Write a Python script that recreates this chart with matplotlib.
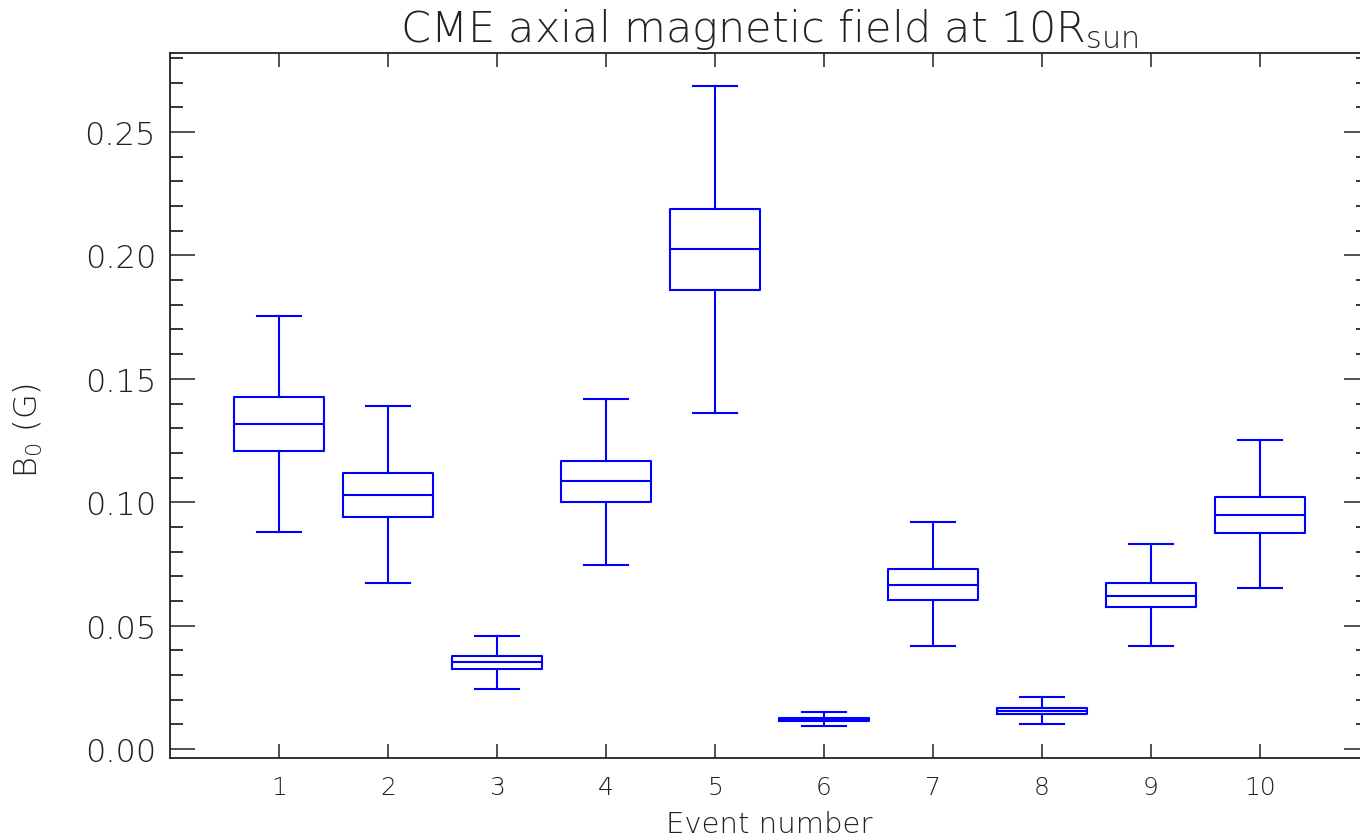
import matplotlib
matplotlib.use('Agg')
import matplotlib.pyplot as plt
from matplotlib.ticker import MultipleLocator, FormatStrFormatter

# Per-event distribution of the axial field B0 at 10 Rsun (Gauss)
events   = [1, 2, 3, 4, 5, 6, 7, 8, 9, 10]
whis_lo  = [0.0878, 0.0671, 0.0244, 0.0747, 0.1362, 0.0093, 0.0416, 0.0101, 0.0417, 0.0652]
q1       = [0.1207, 0.0940, 0.0325, 0.0999, 0.1861, 0.0113, 0.0605, 0.0142, 0.0575, 0.0875]
medians  = [0.1319, 0.1029, 0.0351, 0.1085, 0.2027, 0.0122, 0.0664, 0.0154, 0.0621, 0.0950]
q3       = [0.1425, 0.1119, 0.0377, 0.1168, 0.2190, 0.0127, 0.0729, 0.0166, 0.0674, 0.1021]
whis_hi  = [0.1753, 0.1388, 0.0456, 0.1418, 0.2687, 0.0149, 0.0918, 0.0209, 0.0829, 0.1251]

stats = []
for i in range(len(events)):
    stats.append({
        'label': str(events[i]),
        'whislo': whis_lo[i],
        'q1': q1[i],
        'med': medians[i],
        'q3': q3[i],
        'whishi': whis_hi[i],
        'fliers': [],
    })

plt.rcParams['font.family'] = ['DejaVu Sans']
plt.rcParams['mathtext.fontset'] = 'custom'
plt.rcParams['mathtext.rm'] = 'DejaVu Sans:light'
plt.rcParams['mathtext.it'] = 'DejaVu Sans:light'
plt.rcParams['mathtext.default'] = 'rm'
txt_color = '#222222'

fig = plt.figure(figsize=(13.6, 8.37), dpi=100)
ax = fig.add_axes([0.125, 0.0928, 0.8816, 0.8423])

blue = '#0000ff'
lw = 1.5
ax.bxp(stats, positions=events, widths=0.83, showfliers=False,
       boxprops=dict(color=blue, linewidth=lw),
       medianprops=dict(color=blue, linewidth=lw),
       whiskerprops=dict(color=blue, linewidth=lw),
       capprops=dict(color=blue, linewidth=lw),
       capwidths=0.41)

ax.set_xlim(0, 11)
ax.set_ylim(-0.00377, 0.2819)
ax.set_xticks(events)
ax.set_xticklabels([str(e) for e in events])
ax.yaxis.set_major_locator(MultipleLocator(0.05))
ax.yaxis.set_minor_locator(MultipleLocator(0.01))
ax.yaxis.set_major_formatter(FormatStrFormatter('%.2f'))

for s in ax.spines.values():
    s.set_color('#222222')
    s.set_linewidth(1.3)

ax.tick_params(axis='y', which='major', direction='in', length=18, width=1.1,
               left=True, right=True, labelsize=23, pad=10, colors=txt_color)
ax.tick_params(axis='y', which='minor', direction='in', length=9.5, width=1.1,
               left=True, right=True)
ax.tick_params(axis='x', which='major', direction='in', length=10, width=1.1,
               bottom=True, top=True, labelsize=18, pad=12, colors=txt_color)

for lab in ax.get_xticklabels() + ax.get_yticklabels():
    lab.set_fontweight('light')

ax.set_title(r'CME axial magnetic field at 10R$_{sun}$', fontsize=31,
             color=txt_color, pad=9, fontweight='light')
ax.set_xlabel('Event number', fontsize=21, color=txt_color, labelpad=8,
              fontweight='light')
ax.set_ylabel(r'B$_0$ (G)', fontsize=23, color=txt_color, fontweight='light')
ax.yaxis.set_label_coords(-0.104, 0.467)

fig.savefig('out.png', dpi=100)
